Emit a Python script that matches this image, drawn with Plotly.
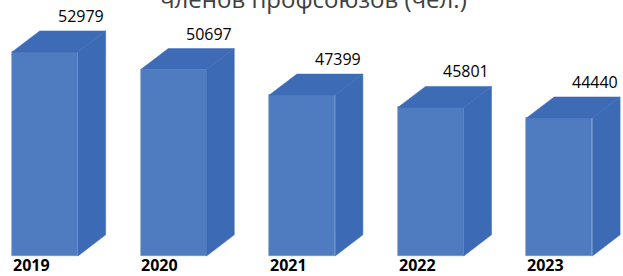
import plotly.graph_objects as go

years = ["2019", "2020", "2021", "2022", "2023"]
members = [52979, 50697, 47399, 45801, 44440]
title_text = "Численность<br>членов профсоюзов (чел.)"

BASE = 26600          # floor of the value axis
BAR_W = 0.513         # bar width (category units)
DX = 0.215            # 3D depth, x units
DY = 2720             # 3D depth, y units

FRONT = "#4F7BC0"
SIDE = "#3C6AB4"
TOP = "#3D6BB6"

fig = go.Figure()

xs = list(range(len(years)))

# side and top faces
for i, v in zip(xs, members):
    xl, xr = i - BAR_W / 2, i + BAR_W / 2
    fig.add_trace(go.Scatter(
        x=[xr, xr + DX, xr + DX, xr, xr],
        y=[BASE, BASE + DY, v + DY, v, BASE],
        fill="toself", fillcolor=SIDE, mode="lines",
        line=dict(color=SIDE, width=0.5), hoverinfo="skip", showlegend=False))
    fig.add_trace(go.Scatter(
        x=[xl, xl + DX, xr + DX, xr, xl],
        y=[v, v + DY, v + DY, v, v],
        fill="toself", fillcolor=TOP, mode="lines",
        line=dict(color=TOP, width=0.5), hoverinfo="skip", showlegend=False))

# front faces
fig.add_trace(go.Bar(
    x=xs, y=[v - BASE for v in members], base=BASE, width=BAR_W,
    marker=dict(color=FRONT, line=dict(color="#6E92CC", width=0.6)),
    showlegend=False, hoverinfo="skip"))

# value labels
for i, v in zip(xs, members):
    fig.add_annotation(x=i + BAR_W / 2 + DX, y=v + DY, text=str(v),
                       xanchor="right", yanchor="bottom", yshift=2,
                       showarrow=False,
                       font=dict(family="Open Sans", size=16, color="#000000"))

# category labels
for i, yr in zip(xs, years):
    fig.add_annotation(x=i - BAR_W / 2 - 0.01, y=0, yref="paper", text=yr,
                       xanchor="left", yanchor="bottom", yshift=-2,
                       showarrow=False,
                       font=dict(family="Open Sans", size=16, color="#000000",
                                 weight="bold"))

# title (upper part lies above the visible area)
fig.add_annotation(x=0.503, xref="paper", y=1, yref="paper", text=title_text,
                   showarrow=False, xanchor="center", yanchor="bottom",
                   yshift=-17,
                   font=dict(family="Open Sans", size=24, color="#404040"))

fig.update_layout(
    width=623, height=276,
    margin=dict(l=0, r=0, t=0, b=0),
    paper_bgcolor="white", plot_bgcolor="white",
    xaxis=dict(range=[-0.35, 4.494], visible=False, fixedrange=True),
    yaxis=dict(range=[24000, 59700], visible=False, fixedrange=True),
    bargap=0,
)

fig.write_html("out.html",
               config={"displayModeBar": False},
               post_script="document.body.style.margin='0';"
                           "document.body.style.overflow='hidden';")
